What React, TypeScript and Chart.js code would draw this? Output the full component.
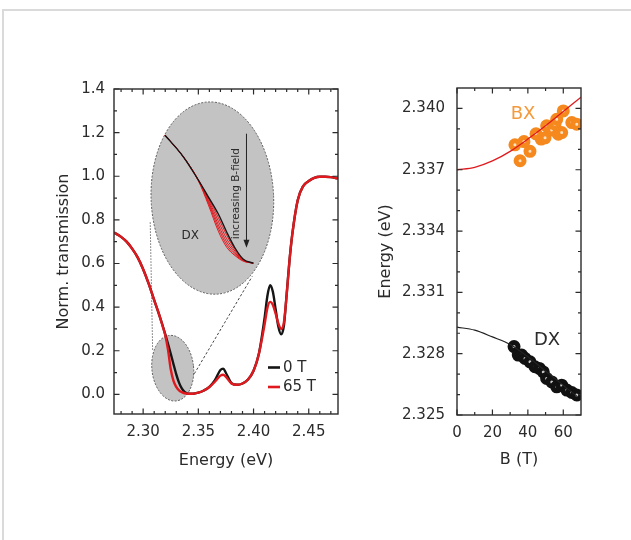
import React, { useEffect, useRef } from "react";
import { Chart, registerables } from "chart.js";

Chart.register(...registerables);

const FONT = "'DejaVu Sans', 'Liberation Sans', Arial, sans-serif";
const INK = "#2b2b2b";
const RED = "#e0191e";
const BLACK = "#151515";
const ORANGE = "#f5891e";

// ---------------- left panel: transmission spectra ----------------
const energy = [
  2.2736, 2.28, 2.285, 2.29, 2.295, 2.3, 2.305, 2.31, 2.315, 2.3175, 2.32, 2.3225, 2.325, 2.3275, 2.33,
  2.3325, 2.335, 2.3375, 2.34, 2.345, 2.35, 2.355, 2.36, 2.365, 2.37, 2.3725, 2.375, 2.38, 2.385, 2.39,
  2.395, 2.4, 2.405, 2.41, 2.4125, 2.415, 2.4175, 2.42, 2.4225, 2.425, 2.4275, 2.43, 2.4325, 2.435, 2.44,
  2.445, 2.45, 2.455, 2.46, 2.465, 2.47, 2.4765,
];
const trans0T = [
  0.742, 0.722, 0.7, 0.668, 0.628, 0.574, 0.508, 0.432, 0.358, 0.318, 0.276, 0.232, 0.186, 0.138, 0.092,
  0.054, 0.027, 0.011, 0.004, 0.003, 0.008, 0.018, 0.034, 0.065, 0.112, 0.118, 0.098, 0.052, 0.044, 0.05,
  0.068, 0.108, 0.19, 0.35, 0.45, 0.5, 0.47, 0.39, 0.31, 0.275, 0.315, 0.46, 0.61, 0.73, 0.89,
  0.955, 0.978, 0.993, 0.998, 0.998, 0.996, 0.99,
];
const trans65T = [
  0.742, 0.722, 0.7, 0.668, 0.628, 0.574, 0.508, 0.432, 0.358, 0.315, 0.272, 0.205, 0.115, 0.062, 0.034,
  0.018, 0.01, 0.005, 0.003, 0.003, 0.008, 0.018, 0.034, 0.058, 0.086, 0.09, 0.08, 0.05, 0.044, 0.05,
  0.068, 0.108, 0.19, 0.32, 0.395, 0.424, 0.41, 0.37, 0.325, 0.3, 0.33, 0.455, 0.61, 0.73, 0.89,
  0.955, 0.978, 0.993, 0.998, 0.998, 0.996, 0.99,
];

// inset: zoom on the DX line for increasing field
const insetEnergy = [2.3165, 2.322, 2.3265, 2.3295, 2.3325, 2.335, 2.3375, 2.34, 2.343];
const inset0T = [0.332, 0.278, 0.22, 0.178, 0.135, 0.09, 0.05, 0.022, 0.012];
const insetRed1 = [0.332, 0.278, 0.22, 0.175, 0.126, 0.082, 0.046, 0.021, 0.012];
const insetRed2 = [0.332, 0.278, 0.22, 0.171, 0.117, 0.073, 0.042, 0.02, 0.012];
const insetRed3 = [0.332, 0.278, 0.22, 0.167, 0.108, 0.065, 0.038, 0.019, 0.012];
const insetRed4 = [0.332, 0.278, 0.219, 0.163, 0.1, 0.058, 0.034, 0.018, 0.012];
const insetRed5 = [0.332, 0.278, 0.218, 0.158, 0.092, 0.052, 0.031, 0.017, 0.012];

const leftXTicks = [2.3, 2.35, 2.4, 2.45];
const leftXMinor = [2.28, 2.29, 2.31, 2.32, 2.33, 2.34, 2.36, 2.37, 2.38, 2.39, 2.41, 2.42, 2.43, 2.44, 2.46, 2.47];
const leftYTicks = [0, 0.2, 0.4, 0.6, 0.8, 1.0, 1.2, 1.4];
const leftYMinor = [0.1, 0.3, 0.5, 0.7, 0.9, 1.1, 1.3];

// ---------------- right panel: line energies vs field ----------------
const bxField = [32.7, 35.6, 37.8, 41.2, 44.6, 47.5, 49.7, 50.6, 53.5, 55.3, 56.3, 57.2, 59.1, 60.0, 64.8, 67.6];
const bxEnergy = [
  2.33822, 2.33744, 2.33838, 2.3379, 2.33876, 2.3385, 2.33856, 2.33915, 2.33895, 2.33923, 2.33947, 2.33874,
  2.33882, 2.33988, 2.33931, 2.33923,
];
const dxField = [32.2, 34.6, 36.5, 38.4, 41.2, 44.0, 46.5, 48.7, 50.6, 53.5, 56.3, 59.1, 62.0, 64.8, 67.6];
const dxEnergy = [
  2.32835, 2.32793, 2.32793, 2.32777, 2.3276, 2.32736, 2.32728, 2.32711, 2.32679, 2.32662, 2.32638, 2.32646,
  2.32622, 2.3261, 2.32598,
];
const bxFitField = [0, 10, 20, 30, 40, 50, 60, 70];
const bxFitEnergy = [2.337, 2.33712, 2.33743, 2.3379, 2.3385, 2.33915, 2.33985, 2.34055];
const dxFitField = [0, 10, 20, 30, 40, 50, 60, 68];
const dxFitEnergy = [2.3293, 2.32915, 2.32882, 2.32845, 2.32785, 2.32715, 2.32645, 2.3259];

const rightXTicks = [0, 20, 40, 60];
const rightXMinor = [10, 30, 50];
const rightYTicks = [2.325, 2.328, 2.331, 2.334, 2.337, 2.34];
const rightYMinor = [2.326, 2.327, 2.329, 2.33, 2.332, 2.333, 2.335, 2.336, 2.338, 2.339];

const pts = (xs: number[], ys: number[]) => xs.map((x, i) => ({ x, y: ys[i] }));

type TickCfg = { xMajor: number[]; xMinor: number[]; yMajor: number[]; yMinor: number[] };

function framePlugin(id: string, cfg: TickCfg) {
  return {
    id,
    afterDatasetsDraw(chart: any) {
      const { ctx, chartArea, scales } = chart;
      const { left, right, top, bottom } = chartArea;
      const x = scales.x;
      const y = scales.y;
      ctx.save();
      ctx.strokeStyle = INK;
      ctx.lineWidth = 1.4;
      ctx.strokeRect(left, top, right - left, bottom - top);
      ctx.lineWidth = 1.2;
      ctx.beginPath();
      const xm = (vals: number[], len: number) =>
        vals.forEach((v) => {
          const p = x.getPixelForValue(v);
          ctx.moveTo(p, bottom);
          ctx.lineTo(p, bottom - len);
          ctx.moveTo(p, top);
          ctx.lineTo(p, top + len);
        });
      const ym = (vals: number[], len: number) =>
        vals.forEach((v) => {
          const p = y.getPixelForValue(v);
          ctx.moveTo(left, p);
          ctx.lineTo(left + len, p);
          ctx.moveTo(right, p);
          ctx.lineTo(right - len, p);
        });
      xm(cfg.xMajor, 5.5);
      xm(cfg.xMinor, 3);
      ym(cfg.yMajor, 5.5);
      ym(cfg.yMinor, 3);
      ctx.stroke();
      ctx.restore();
    },
  };
}

const axisCommon = {
  grid: { display: false, drawTicks: false },
  border: { display: false },
};

// annotation anchors (data units of the left panel)
const bigEllipse = { cx: 2.3627, cy: 0.9, rx: 0.0555, ry: 0.441, rot: -0.04 };
const smallEllipse = { cx: 2.3268, cy: 0.12, rx: 0.0189, ry: 0.151, rot: -0.1 };
const guide1 = [
  [2.3086, 0.205],
  [2.3064, 0.79],
];
const guide2 = [
  [2.3443, 0.077],
  [2.3988, 0.541],
];
const insetDX = { x: 2.3427, y: 0.727 };
const insetLabel = { x: 2.3845, y: 0.92 };
const arrow = { x: 2.3936, y0: 1.195, y1: 0.672 };

function drawEllipse(ctx: any, xs: any, ys: any, e: any) {
  const px = xs.getPixelForValue(e.cx);
  const py = ys.getPixelForValue(e.cy);
  const rx = Math.abs(xs.getPixelForValue(e.cx + e.rx) - px);
  const ry = Math.abs(ys.getPixelForValue(e.cy + e.ry) - py);
  ctx.beginPath();
  ctx.ellipse(px, py, rx, ry, e.rot, 0, Math.PI * 2);
  ctx.fillStyle = "#c3c3c3";
  ctx.fill();
  ctx.setLineDash([2, 1.5]);
  ctx.strokeStyle = "#5a5a5a";
  ctx.lineWidth = 1;
  ctx.stroke();
  ctx.setLineDash([]);
}

function LeftPanel() {
  const ref = useRef<HTMLCanvasElement>(null);
  useEffect(() => {
    const decor = {
      id: "leftDecor",
      beforeDatasetsDraw(chart: any) {
        const { ctx, scales } = chart;
        const x = scales.x;
        const y = scales.y;
        ctx.save();
        ctx.strokeStyle = "#444";
        ctx.lineWidth = 1;
        ctx.setLineDash([1.2, 1.8]);
        ctx.beginPath();
        ctx.moveTo(x.getPixelForValue(guide1[0][0]), y.getPixelForValue(guide1[0][1]));
        ctx.lineTo(x.getPixelForValue(guide1[1][0]), y.getPixelForValue(guide1[1][1]));
        ctx.stroke();
        ctx.setLineDash([2.5, 2]);
        ctx.beginPath();
        ctx.moveTo(x.getPixelForValue(guide2[0][0]), y.getPixelForValue(guide2[0][1]));
        ctx.lineTo(x.getPixelForValue(guide2[1][0]), y.getPixelForValue(guide2[1][1]));
        ctx.stroke();
        ctx.setLineDash([]);
        drawEllipse(ctx, x, y, smallEllipse);
        drawEllipse(ctx, x, y, bigEllipse);
        // inset annotations
        ctx.fillStyle = INK;
        ctx.font = `12px ${FONT}`;
        ctx.textAlign = "center";
        ctx.textBaseline = "middle";
        ctx.fillText("DX", x.getPixelForValue(insetDX.x), y.getPixelForValue(insetDX.y));
        ctx.save();
        ctx.translate(x.getPixelForValue(insetLabel.x), y.getPixelForValue(insetLabel.y));
        ctx.rotate(-Math.PI / 2);
        ctx.font = `10.5px ${FONT}`;
        ctx.fillText("increasing B-field", 0, 0);
        ctx.restore();
        const ax = x.getPixelForValue(arrow.x);
        const ay0 = y.getPixelForValue(arrow.y0);
        const ay1 = y.getPixelForValue(arrow.y1);
        ctx.strokeStyle = "#222";
        ctx.lineWidth = 1;
        ctx.beginPath();
        ctx.moveTo(ax, ay0);
        ctx.lineTo(ax, ay1 - 6);
        ctx.stroke();
        ctx.fillStyle = "#222";
        ctx.beginPath();
        ctx.moveTo(ax, ay1);
        ctx.lineTo(ax - 3, ay1 - 8);
        ctx.lineTo(ax + 3, ay1 - 8);
        ctx.closePath();
        ctx.fill();
        ctx.restore();
      },
      afterDatasetsDraw(chart: any) {
        const { ctx, chartArea } = chart;
        const ds = chart.data.datasets;
        const rows = [ds[1], ds[0]];
        ctx.save();
        ctx.font = `15px ${FONT}`;
        ctx.textAlign = "left";
        ctx.textBaseline = "middle";
        rows.forEach((d: any, i: number) => {
          const yy = chartArea.bottom - 46.5 + i * 19.5;
          ctx.strokeStyle = d.borderColor;
          ctx.lineWidth = 2.6;
          ctx.beginPath();
          ctx.moveTo(chartArea.right - 70, yy);
          ctx.lineTo(chartArea.right - 58, yy);
          ctx.stroke();
          ctx.fillStyle = INK;
          ctx.fillText(d.label, chartArea.right - 55, yy + 0.5);
        });
        ctx.restore();
      },
    };
    const frame = framePlugin("leftFrame", {
      xMajor: leftXTicks,
      xMinor: leftXMinor,
      yMajor: leftYTicks,
      yMinor: leftYMinor,
    });
    const insetLine = (data: number[], color: string, width: number, order: number) => ({
      label: "",
      data: pts(insetEnergy, data),
      borderColor: color,
      borderWidth: width,
      pointRadius: 0,
      cubicInterpolationMode: "monotone",
      xAxisID: "xi",
      yAxisID: "yi",
      order,
    });
    const chart = new Chart(ref.current as HTMLCanvasElement, {
      type: "line",
      data: {
        datasets: [
          {
            label: "65 T",
            data: pts(energy, trans65T),
            borderColor: RED,
            borderWidth: 2.4,
            pointRadius: 0,
            cubicInterpolationMode: "monotone",
            order: 1,
          },
          {
            label: "0 T",
            data: pts(energy, trans0T),
            borderColor: BLACK,
            borderWidth: 2.4,
            pointRadius: 0,
            cubicInterpolationMode: "monotone",
            order: 2,
          },
          insetLine(insetRed5, RED, 1, 0),
          insetLine(insetRed4, RED, 1, 0),
          insetLine(insetRed3, RED, 1, 0),
          insetLine(insetRed2, RED, 1, 0),
          insetLine(insetRed1, RED, 1, 0),
          insetLine(inset0T, BLACK, 1.4, -1),
        ] as any,
      },
      options: {
        animation: false,
        responsive: false,
        devicePixelRatio: 1,
        layout: { padding: { top: 29, right: 22, left: 0, bottom: 0 } },
        plugins: { legend: { display: false }, tooltip: { enabled: false } },
        scales: {
          x: {
            type: "linear",
            min: 2.2736,
            max: 2.4765,
            ...axisCommon,
            afterBuildTicks: (s: any) => {
              s.ticks = leftXTicks.map((v) => ({ value: v }));
            },
            afterFit: (s: any) => {
              s.height = 76;
            },
            ticks: {
              autoSkip: false,
              maxRotation: 0,
              padding: 9,
              color: INK,
              font: { family: FONT, size: 15 },
              callback: (v: any) => Number(v).toFixed(2),
            },
            title: {
              display: true,
              text: "Energy (eV)",
              color: INK,
              font: { family: FONT, size: 16 },
              padding: { top: 0, bottom: 20 },
            },
          },
          y: {
            type: "linear",
            min: -0.09,
            max: 1.4,
            ...axisCommon,
            afterBuildTicks: (s: any) => {
              s.ticks = leftYTicks.map((v) => ({ value: v }));
            },
            afterFit: (s: any) => {
              s.width = 74;
            },
            ticks: {
              autoSkip: false,
              padding: 9,
              color: INK,
              font: { family: FONT, size: 15 },
              callback: (v: any) => Number(v).toFixed(1),
            },
            title: {
              display: true,
              text: "Norm. transmission",
              color: INK,
              font: { family: FONT, size: 16 },
              padding: { top: 14, bottom: 0 },
            },
          },
          xi: { type: "linear", axis: "x", display: false, min: 2.3012, max: 2.3684 },
          yi: { type: "linear", axis: "y", display: false, min: -0.365, max: 0.4475 },
        } as any,
      },
      plugins: [decor, frame],
    });
    return () => chart.destroy();
  }, []);
  return (
    <canvas
      ref={ref}
      width={320}
      height={430}
      style={{ position: "absolute", left: 40, top: 60, width: 320, height: 430 }}
    />
  );
}

function RightPanel() {
  const ref = useRef<HTMLCanvasElement>(null);
  useEffect(() => {
    const labels = {
      id: "rightLabels",
      afterDatasetsDraw(chart: any) {
        const { ctx, scales } = chart;
        ctx.save();
        ctx.font = `18px ${FONT}`;
        ctx.textAlign = "center";
        ctx.textBaseline = "middle";
        ctx.fillStyle = "#f39a3c";
        ctx.fillText("BX", scales.x.getPixelForValue(37.3), scales.y.getPixelForValue(2.33973));
        ctx.fillStyle = INK;
        ctx.fillText("DX", scales.x.getPixelForValue(50.8), scales.y.getPixelForValue(2.32866));
        ctx.restore();
      },
    };
    const frame = framePlugin("rightFrame", {
      xMajor: rightXTicks,
      xMinor: rightXMinor,
      yMajor: rightYTicks,
      yMinor: rightYMinor,
    });
    const chart = new Chart(ref.current as HTMLCanvasElement, {
      type: "scatter",
      data: {
        datasets: [
          {
            label: "BX fit",
            data: pts(bxFitField, bxFitEnergy),
            showLine: true,
            borderColor: RED,
            borderWidth: 1.3,
            pointRadius: 0,
            cubicInterpolationMode: "monotone",
          },
          {
            label: "DX fit",
            data: pts(dxFitField, dxFitEnergy),
            showLine: true,
            borderColor: "#222",
            borderWidth: 1.2,
            pointRadius: 0,
            cubicInterpolationMode: "monotone",
          },
          {
            label: "BX",
            data: pts(bxField, bxEnergy),
            pointRadius: 4,
            borderWidth: 5,
            borderColor: ORANGE,
            backgroundColor: "#fde3c4",
          },
          {
            label: "DX",
            data: pts(dxField, dxEnergy),
            pointRadius: 4,
            borderWidth: 5,
            borderColor: "#111",
            backgroundColor: "#c8c8c8",
          },
        ] as any,
      },
      options: {
        animation: false,
        responsive: false,
        devicePixelRatio: 1,
        layout: { padding: { top: 28, right: 29, left: 0, bottom: 0 } },
        plugins: { legend: { display: false }, tooltip: { enabled: false } },
        scales: {
          x: {
            type: "linear",
            min: 0,
            max: 70,
            ...axisCommon,
            afterBuildTicks: (s: any) => {
              s.ticks = rightXTicks.map((v) => ({ value: v }));
            },
            afterFit: (s: any) => {
              s.height = 75;
            },
            ticks: {
              autoSkip: false,
              maxRotation: 0,
              padding: 9,
              color: INK,
              font: { family: FONT, size: 15 },
              callback: (v: any) => String(Math.round(Number(v))),
            },
            title: {
              display: true,
              text: "B (T)",
              color: INK,
              font: { family: FONT, size: 16 },
              padding: { top: 0, bottom: 21 },
            },
          },
          y: {
            type: "linear",
            min: 2.325,
            max: 2.341,
            ...axisCommon,
            afterBuildTicks: (s: any) => {
              s.ticks = rightYTicks.map((v) => ({ value: v }));
            },
            afterFit: (s: any) => {
              s.width = 87;
            },
            ticks: {
              autoSkip: false,
              padding: 12,
              color: INK,
              font: { family: FONT, size: 15 },
              callback: (v: any) => Number(v).toFixed(3),
            },
            title: {
              display: true,
              text: "Energy (eV)",
              color: INK,
              font: { family: FONT, size: 16 },
              padding: { top: 6, bottom: 0 },
            },
          },
        } as any,
      },
      plugins: [labels, frame],
    });
    return () => chart.destroy();
  }, []);
  return (
    <canvas
      ref={ref}
      width={240}
      height={430}
      style={{ position: "absolute", left: 370, top: 60, width: 240, height: 430 }}
    />
  );
}

export default function App() {
  return (
    <div
      style={{
        position: "fixed",
        left: 0,
        top: 0,
        width: 631,
        height: 540,
        background: "#fff",
        overflow: "hidden",
      }}
    >
      <div
        style={{
          position: "absolute",
          left: 2,
          top: 9,
          width: 629,
          height: 531,
          borderTop: "2px solid #dadada",
          borderLeft: "2px solid #dadada",
          boxSizing: "border-box",
        }}
      />
      <LeftPanel />
      <RightPanel />
    </div>
  );
}
